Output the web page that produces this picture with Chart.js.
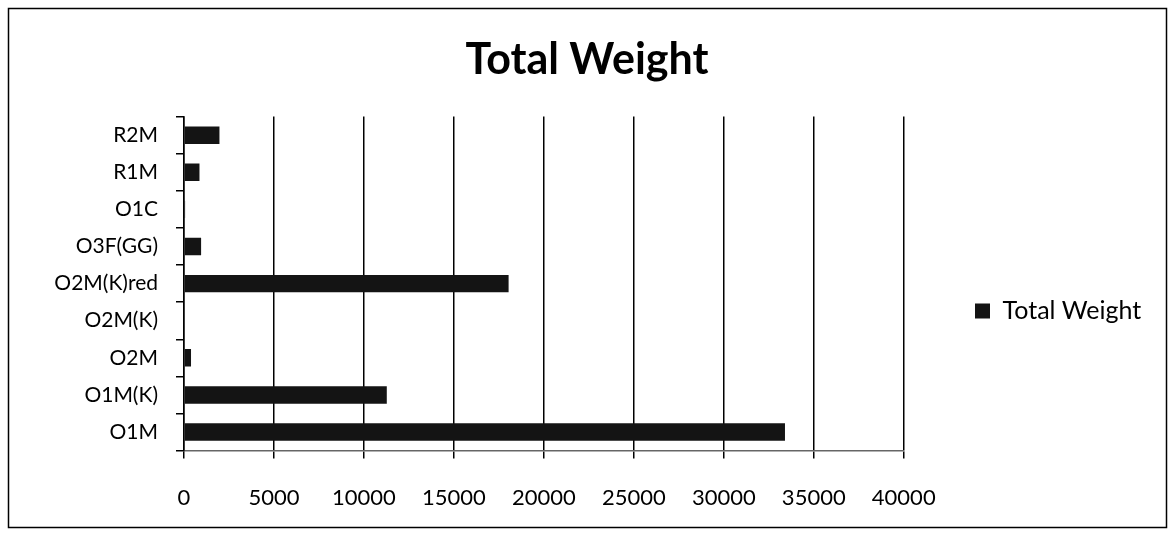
<!DOCTYPE html>
<html>
<head>
<meta charset="utf-8">
<script src="https://cdn.jsdelivr.net/npm/chart.js@4"></script>
<style>
  body { margin: 0; background: #fff; }
  #wrap { width: 1175px; height: 537px; }
</style>
</head>
<body>
<div id="wrap"><canvas id="myChart" width="1175" height="537"></canvas></div>
<script>
// categories listed bottom to top, as in the sheet
const categorias = ["O1M", "O1M(K)", "O2M", "O2M(K)", "O2M(K)red", "O3F(GG)", "O1C", "R1M", "R2M"];
const pesoTotal = [33400, 11270, 390, 0, 18040, 950, 60, 860, 1970];
const serieNombre = "Total Weight";
const ejeMin = 0;
const ejeMax = 40000;
const ejePaso = 5000;

const fuente = "Lato, 'Open Sans', sans-serif";

// frame around the whole chart, title centred on the page, legend moved to where excel put it
const marcoPlugin = {
    id: "marco",
    afterLayout(chart) {
        const tb = chart.titleBlock;
        const tdx = 587 - (tb.left + tb.right) / 2;
        tb.left += tdx; tb.right += tdx;

        const lg = chart.legend;
        const pad = lg.options.labels.padding;
        const dx = 975 - (lg.left + pad);
        const dy = 316 - (lg.top + lg.bottom + pad) / 2;
        lg.left += dx; lg.right += dx;
        lg.top += dy; lg.bottom += dy;
    },
    afterDraw(chart) {
        const ctx = chart.ctx;
        ctx.save();
        ctx.strokeStyle = "#000";
        ctx.lineWidth = 1.5;
        ctx.strokeRect(8.5, 8.5, 1158, 519);
        ctx.restore();
    }
};

const data = {
    labels: categorias,
    datasets: [{
        label: serieNombre,
        data: pesoTotal,
        backgroundColor: "#141414",
        borderWidth: 0,
        barPercentage: 0.47,
        categoryPercentage: 1
    }]
};

const options = {
    indexAxis: "y",
    responsive: false,
    animation: false,
    layout: { padding: { left: 20, right: 85, top: 10, bottom: 0 } },
    plugins: {
        title: {
            display: true,
            text: "Total Weight",
            color: "#000",
            font: { family: fuente, size: 43, weight: "bold" },
            padding: { top: 24, bottom: 31 }
        },
        legend: {
            position: "right",
            fullSize: false,
            labels: {
                boxWidth: 15,
                boxHeight: 15,
                padding: 10,
                color: "#000",
                font: { family: fuente, size: 25 }
            }
        },
        tooltip: { enabled: false }
    },
    scales: {
        x: {
            min: ejeMin,
            max: ejeMax,
            ticks: {
                stepSize: ejePaso,
                callback: (v) => v,
                color: "#000",
                padding: 26,
                font: { family: fuente, size: 22 }
            },
            grid: { color: "#000", lineWidth: 1.5, tickLength: 8 },
            border: { color: "#666", width: 1.5 }
        },
        y: {
            reverse: true,
            afterFit: (scale) => { scale.width = 164; },
            ticks: {
                color: "#000",
                padding: 18,
                font: { family: fuente, size: 21 }
            },
            grid: { offset: true, drawOnChartArea: false, color: "#000", lineWidth: 1.5, tickLength: 8 },
            border: { color: "#000", width: 1.5 }
        }
    }
};

const myChart = new Chart("myChart", { type: "bar", data, options, plugins: [marcoPlugin] });
</script>
</body>
</html>
